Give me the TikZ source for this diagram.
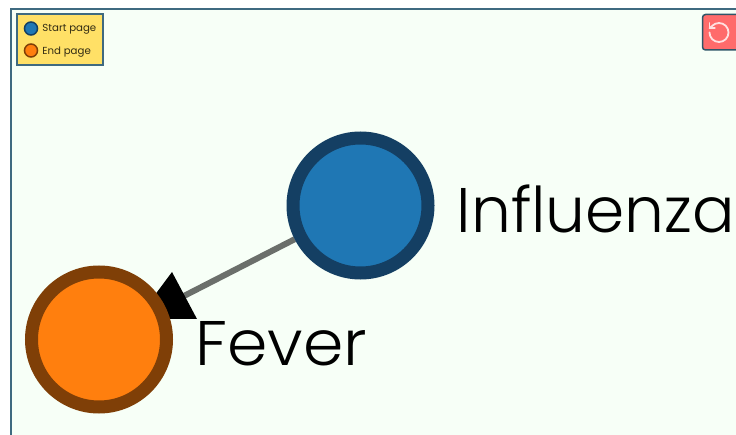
\documentclass[tikz,border=0pt]{standalone}
\usepackage{fontspec}
\setmainfont{Poppins Light}
\newfontfamily\legendfont{Poppins}
\usetikzlibrary{arrows.meta, positioning, backgrounds}
\definecolor{mint}{HTML}{F7FFF7}
\definecolor{frameblue}{HTML}{3F6A80}
\definecolor{buttonedge}{HTML}{2F5568}
\definecolor{startfill}{HTML}{1F77B4}
\definecolor{startedge}{HTML}{143F63}
\definecolor{endfill}{HTML}{FF7F0E}
\definecolor{endedge}{HTML}{7F3F07}
\definecolor{legendfill}{HTML}{FFE066}
\definecolor{resetfill}{HTML}{FF6B6B}
\definecolor{linkgrey}{HTML}{6B6F6B}
\tikzset{
  pagenode/.style  = {circle, draw, line width=13pt, minimum size=135pt, inner sep=0pt},
  pagelabel/.style = {anchor=base west, inner sep=0pt, font=\fontsize{63}{63}\selectfont, text=black},
  keynode/.style   = {circle, draw, line width=1.5pt, minimum size=13pt, inner sep=0pt},
  keylabel/.style  = {anchor=west, inner sep=0pt, yshift=-1.2pt,
                      font=\legendfont\fontsize{10.2}{10.2}\selectfont, text=black!80!legendfill},
  link/.style      = {-, line width=6pt, linkgrey},
  reseticon/.style = {white!80!resetfill, line width=1.8pt, line cap=round, line join=round},
}
\begin{document}
\begin{tikzpicture}[x=1pt, y=-1pt]
    \useasboundingbox (0,0) rectangle (736,435);

    % --- page nodes ---
    \node[pagenode, fill=startfill, draw=startedge] (start) at (360.5,205.5) {};
    \node[pagenode, fill=endfill, draw=endedge] (end) at (99,339.5) {};
    \node[pagelabel] (startlabel) at (456.5,233) {Influenza};
    \node[pagelabel] (endlabel) at (195,366) {\scalebox{1.03}[1]{Fever}};

    % --- link and arrowhead under the nodes ---
    \begin{scope}[on background layer]
      \fill[mint] (11,10) rectangle (736,435);
      \draw[frameblue, line width=2pt] (11,435) -- (11,9.5) -- (736,9.5);
      \draw[link] (start) -- (end);
      \fill[black] (172,272) -- (197,319) -- (137,319) -- cycle;
    \end{scope}

    % --- legend ---
    \node[draw=frameblue, fill=legendfill, line width=1.5pt, minimum width=86pt,
      minimum height=51pt, inner sep=0pt] (legend) at (60,39.5) {};
    \node[keynode, fill=startfill, draw=startedge] (startkey) at (31,28.5) {};
    \node[keynode, fill=endfill, draw=endedge] (endkey) at (31,50.5) {};
    \node[keylabel, right=4pt of startkey] (startkeylabel) {Start page};
    \node[keylabel, right=4pt of endkey] (endkeylabel) {End page};

    % --- reset button ---
    \fill[resetfill, draw=buttonedge, line width=1.5pt, rounded corners=3pt]
      (702.5,14.5) rectangle (745,50);
    \draw[reseticon] (709.5,32.5) arc (180:-135:9.5) -- (709.5,28.3);
    \draw[reseticon] (709.5,23) -- (709.5,28.3) -- (714.8,28.3);
\end{tikzpicture}
\end{document}
